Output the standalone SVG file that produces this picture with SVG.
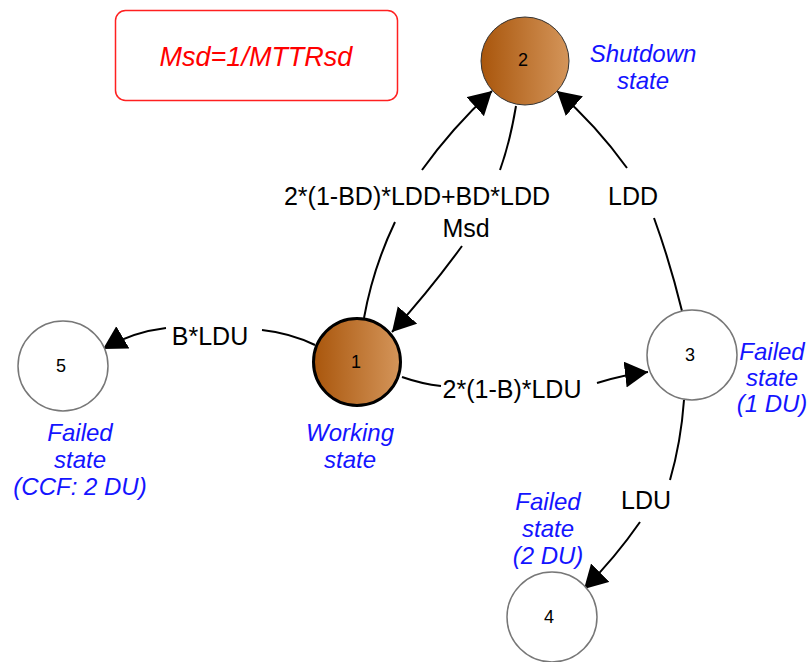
<svg xmlns="http://www.w3.org/2000/svg" width="812" height="662" viewBox="0 0 812 662">
  <style>
    .edge { fill: none; stroke: #000; stroke-width: 2; }
    .elabel { font-family: "Liberation Sans", Arial, sans-serif; font-size: 25px; fill: #000; text-anchor: middle; }
    .slabel { font-family: "Liberation Sans", Arial, sans-serif; font-size: 24px; font-style: italic; fill: #1414ff; text-anchor: middle; }
    .num { font-family: "Liberation Sans", Arial, sans-serif; font-size: 18px; fill: #000; text-anchor: middle; }
    .plain { fill: #fff; stroke: #777; stroke-width: 1.5; }
  </style>
  <defs>
    <linearGradient id="brown" x1="0" y1="0" x2="1" y2="0">
      <stop offset="0" stop-color="#a9560c"/>
      <stop offset="1" stop-color="#d4955a"/>
    </linearGradient>
    <marker id="arrow" markerUnits="userSpaceOnUse" markerWidth="26" markerHeight="28" refX="23" refY="13" orient="auto">
      <path d="M0,0 L23,13 L0,26 z" fill="#000"/>
    </marker>
  </defs>

  <!-- rate note -->
  <g id="note">
    <rect x="115.5" y="10.5" width="282" height="90" rx="10" ry="10" fill="#fff" stroke="#ff2020" stroke-width="1.5"/>
    <text x="256" y="66" font-family="Liberation Sans, Arial, sans-serif" font-size="27" font-style="italic" fill="#ff0000" text-anchor="middle">Msd=1/MTTRsd</text>
  </g>

  <!-- transitions -->
  <g id="connectors">
    <!-- 1 -> 2 -->
    <path class="edge" d="M364,318 Q373,268 395,222"/>
    <path class="edge" d="M422,170 Q452,128 492,91" marker-end="url(#arrow)"/>
    <!-- 2 -> 1 -->
    <path class="edge" d="M516,106 Q510,142 500,170"/>
    <path class="edge" d="M462,246 Q430,290 392,332" marker-end="url(#arrow)"/>
    <!-- 3 -> 2 -->
    <path class="edge" d="M682,311 Q670,262 654,218"/>
    <path class="edge" d="M627,168 Q596,125 557,91" marker-end="url(#arrow)"/>
    <!-- 1 -> 5 -->
    <path class="edge" d="M315,345 Q290,333 262,330"/>
    <path class="edge" d="M166,328 Q132,332 103,349" marker-end="url(#arrow)"/>
    <!-- 1 -> 3 -->
    <path class="edge" d="M402,377 Q422,384 441,386"/>
    <path class="edge" d="M597,383 Q622,375 648,372" marker-end="url(#arrow)"/>
    <!-- 3 -> 4 -->
    <path class="edge" d="M684,400 Q681,442 670,480"/>
    <path class="edge" d="M640,522 Q615,558 584,589" marker-end="url(#arrow)"/>
  </g>

  <g id="edge-labels">
    <text class="elabel" x="417" y="205">2*(1-BD)*LDD+BD*LDD</text>
    <text class="elabel" x="466" y="237">Msd</text>
    <text class="elabel" x="633" y="205">LDD</text>
    <text class="elabel" x="210" y="345">B*LDU</text>
    <text class="elabel" x="512" y="398">2*(1-B)*LDU</text>
    <text class="elabel" x="646" y="509">LDU</text>
  </g>

  <!-- states -->
  <g id="node1">
    <circle cx="357" cy="362" r="43.5" fill="url(#brown)" stroke="#000" stroke-width="3"/>
    <text class="num" x="356" y="368">1</text>
    <text class="slabel" x="350" y="441">Working</text>
    <text class="slabel" x="350" y="468">state</text>
  </g>
  <g id="node2">
    <circle cx="525" cy="61" r="44" fill="url(#brown)" stroke="#333" stroke-width="1"/>
    <text class="num" x="523" y="66">2</text>
    <text class="slabel" x="643" y="62">Shutdown</text>
    <text class="slabel" x="643" y="89">state</text>
  </g>
  <g id="node3">
    <circle class="plain" cx="692" cy="355" r="45"/>
    <text class="num" x="690" y="361">3</text>
    <text class="slabel" x="772" y="360">Failed</text>
    <text class="slabel" x="772" y="386">state</text>
    <text class="slabel" x="772" y="412">(1 DU)</text>
  </g>
  <g id="node4">
    <circle class="plain" cx="552" cy="617" r="45"/>
    <text class="num" x="549" y="623">4</text>
    <text class="slabel" x="548" y="510">Failed</text>
    <text class="slabel" x="548" y="537">state</text>
    <text class="slabel" x="548" y="564">(2 DU)</text>
  </g>
  <g id="node5">
    <circle class="plain" cx="63" cy="366" r="45"/>
    <text class="num" x="61" y="372">5</text>
    <text class="slabel" x="80" y="441">Failed</text>
    <text class="slabel" x="80" y="468">state</text>
    <text class="slabel" x="80" y="495">(CCF: 2 DU)</text>
  </g>
</svg>
